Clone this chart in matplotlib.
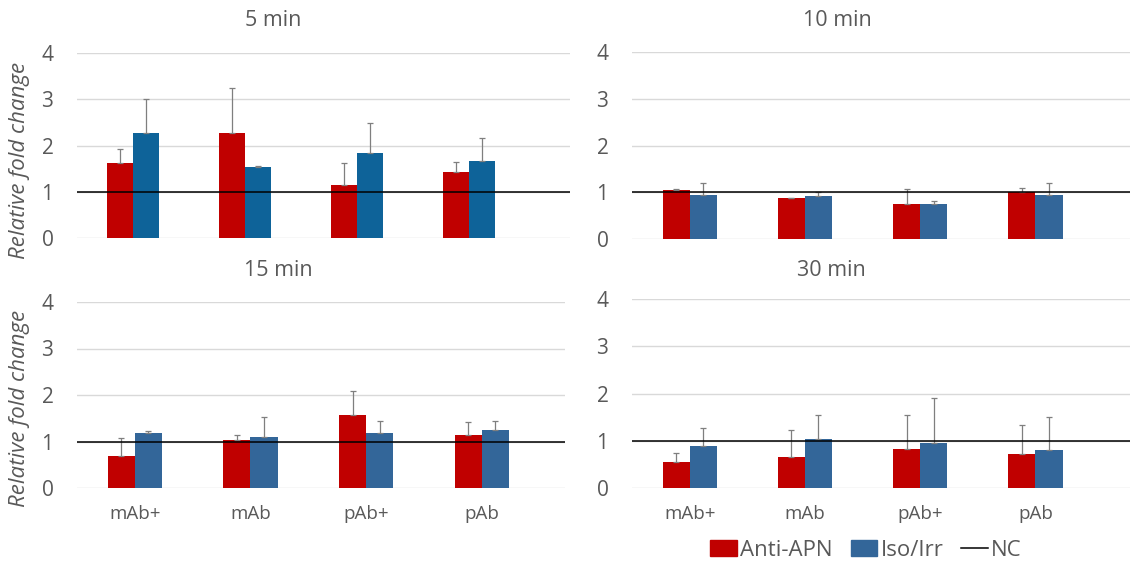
import numpy as np
import matplotlib.pyplot as plt
from matplotlib.patches import Patch
from matplotlib.lines import Line2D

# ------------------------- datos -------------------------
categorias = ["mAb+", "mAb", "pAb+", "pAb"]
tiempos = ["5 min", "10 min", "15 min", "30 min"]

anti_apn = [
    [1.62, 2.27, 1.14, 1.42],
    [1.05, 0.87, 0.75, 1.00],
    [0.69, 1.03, 1.56, 1.14],
    [0.56, 0.66, 0.82, 0.72],
]
anti_apn_err = [
    [0.30, 0.97, 0.48, 0.22],
    [0.02, 0.01, 0.31, 0.09],
    [0.38, 0.12, 0.52, 0.27],
    [0.19, 0.57, 0.72, 0.61],
]
iso_irr = [
    [2.27, 1.53, 1.84, 1.66],
    [0.95, 0.91, 0.75, 0.95],
    [1.19, 1.09, 1.19, 1.24],
    [0.88, 1.04, 0.96, 0.80],
]
iso_irr_err = [
    [0.74, 0.03, 0.64, 0.50],
    [0.24, 0.09, 0.06, 0.24],
    [0.03, 0.44, 0.25, 0.20],
    [0.39, 0.50, 0.94, 0.70],
]
nc = 1.0

# ------------------------- estilo -------------------------
plt.rcParams['font.family'] = ['Open Sans', 'DejaVu Sans']
gris = "#595959"
rojo = "#C00000"
azules = ["#0E6399", "#336699", "#336699", "#336699"]

W, H = 1130, 565
fig = plt.figure(figsize=(W / 100, H / 100), dpi=100)

# cajas de cada panel en pixeles: (izq, der, arriba, abajo)
cajas = [(77, 570, 53, 238), (632, 1130, 52, 239),
         (77, 565, 302, 488), (632, 1130, 299, 488)]
titulos_xy = [(273, 20), (837, 20), (278, 270), (831, 270)]
xmax = [3.9, 3.82, 3.72, 3.82]

x = np.arange(len(categorias))
ancho = 0.235

for i, (l, r, t, b) in enumerate(cajas):
    ax = fig.add_axes([l / W, 1 - b / H, (r - l) / W, (b - t) / H])
    ax.bar(x - ancho / 2, anti_apn[i], ancho, color=rojo, zorder=2,
           yerr=[np.zeros(4), anti_apn_err[i]],
           error_kw=dict(ecolor="#7f7f7f", elinewidth=0.9, capsize=2.5, capthick=0.9))
    ax.bar(x + ancho / 2, iso_irr[i], ancho, color=azules[i], zorder=2,
           yerr=[np.zeros(4), iso_irr_err[i]],
           error_kw=dict(ecolor="#7f7f7f", elinewidth=0.9, capsize=2.5, capthick=0.9))
    ax.axhline(nc, color="black", lw=1.1, zorder=3)
    ax.set_ylim(0, 4)
    ax.set_xlim(-0.5, xmax[i])
    ax.set_yticks([0, 1, 2, 3, 4])
    ax.yaxis.grid(True, color="#d9d9d9", lw=1.0, zorder=0)
    ax.set_axisbelow(True)
    for s in ax.spines.values():
        s.set_visible(False)
    ax.tick_params(axis="y", length=0, pad=17, labelsize=15, labelcolor=gris)
    ax.tick_params(axis="x", length=0, pad=12, labelsize=13.5, labelcolor=gris)
    ax.set_xticks(x)
    if i >= 2:
        ax.set_xticklabels(categorias)
    else:
        ax.set_xticklabels([])
    fig.text(titulos_xy[i][0] / W, 1 - titulos_xy[i][1] / H, tiempos[i],
             ha="center", va="center", fontsize=15.5, color=gris)

for yc in (160, 408):
    fig.text(20 / W, 1 - yc / H, "Relative fold change", rotation=90,
             ha="center", va="center", fontsize=16, style="italic", color=gris)

handles = [Patch(color=rojo), Patch(color=azules[1]), Line2D([0], [0], color="black", lw=1.1)]
fig.legend(handles, ["Anti-APN", "Iso/Irr", "NC"], loc="center",
           bbox_to_anchor=(866 / W, 1 - 550 / H), ncol=3, frameon=False,
           fontsize=16, labelcolor=gris, handlelength=1.2, handleheight=0.7,
           handletextpad=0.15, columnspacing=0.8)

fig.savefig("out.png", dpi=100)
